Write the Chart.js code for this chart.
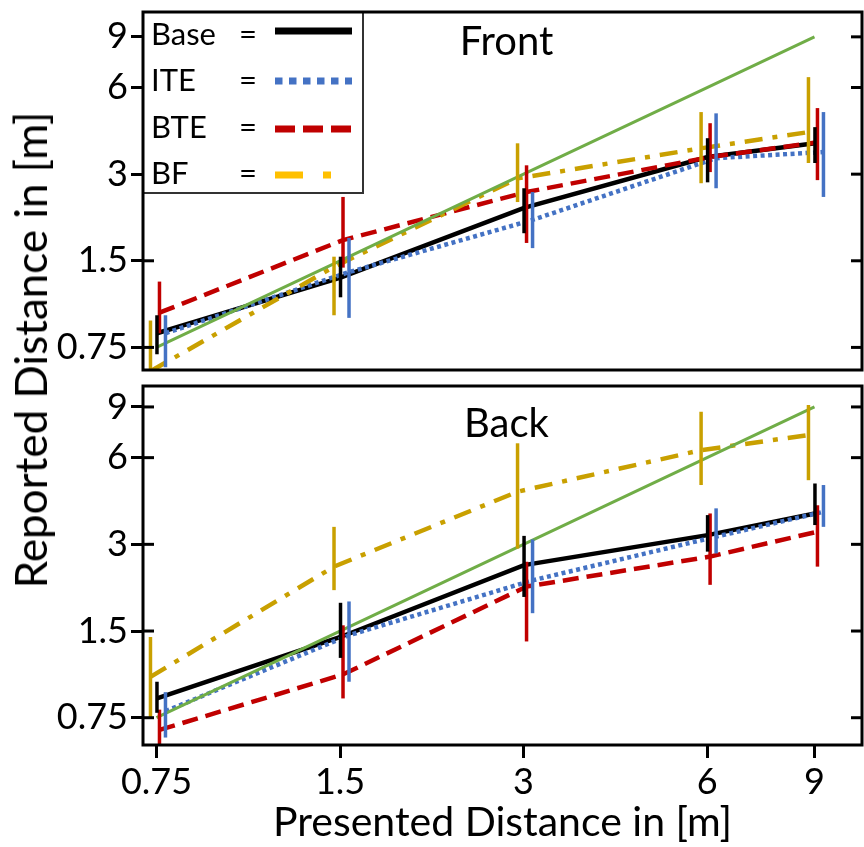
<!DOCTYPE html>
<html><head><meta charset="utf-8">
<script src="https://cdn.jsdelivr.net/npm/chart.js@4.4.1/dist/chart.umd.min.js"></script>
<style>
html,body{margin:0;padding:0;background:#fff;}
#wrap{position:relative;width:864px;height:847px;overflow:hidden;background:#fff;}
#c1{position:absolute;left:0;top:0;}
#c2{position:absolute;left:0;top:378px;}
#ytitle{position:absolute;left:30px;top:350px;transform:translate(-50%,-50%) rotate(-90deg);font-family:Lato;font-size:44px;color:#000;white-space:nowrap;line-height:1;}
</style></head>
<body>
<div id="wrap">
<canvas id="c1" width="864" height="378"></canvas>
<canvas id="c2" width="864" height="469"></canvas>
<div id="ytitle">Reported Distance in [m]</div>
</div>
<script>
// ---- data ----
const xVals = [0.75, 1.5, 3, 6, 9];
const tickVals = [0.75, 1.5, 3, 6, 9];
const tickLabels = ['0.75', '1.5', '3', '6', '9'];
const seriesNames = ['Base', 'ITE', 'BTE', 'BF'];
const panelTitles = ['Front', 'Back'];
const xTitle = 'Presented Distance in [m]';

const frontBase   = [0.84, 1.31, 2.29, 3.44, 3.84];
const frontBaseLo = [0.71, 1.12, 1.87, 2.81, 3.28];
const frontBaseHi = [0.97, 1.55, 2.68, 4.00, 4.37];
const frontITE    = [0.84, 1.37, 2.08, 3.41, 3.58];
const frontITELo  = [0.64, 0.95, 1.66, 2.68, 2.50];
const frontITEHi  = [0.97, 1.80, 2.60, 4.88, 4.93];
const frontBTE    = [0.99, 1.77, 2.60, 3.44, 3.87];
const frontBTELo  = [0.84, 1.42, 1.73, 3.05, 2.86];
const frontBTEHi  = [1.27, 2.50, 3.22, 4.51, 5.09];
const frontBF     = [0.62, 1.43, 2.90, 3.69, 4.20];
const frontBFLo   = [0.45, 0.97, 2.40, 2.79, 3.28];
const frontBFHi   = [0.93, 1.55, 3.84, 4.93, 6.52];

const backBase   = [0.875, 1.43, 2.54, 3.23, 3.84];
const backBaseLo = [0.78, 1.21, 1.97, 2.83, 3.50];
const backBaseHi = [1.00, 1.88, 3.21, 3.79, 4.88];
const backITE    = [0.79, 1.45, 2.25, 3.19, 3.89];
const backITELo  = [0.64, 1.00, 1.73, 2.79, 3.45];
const backITEHi  = [0.92, 1.90, 3.12, 4.00, 4.82];
const backBTE    = [0.68, 1.06, 2.14, 2.72, 3.32];
const backBTELo  = [0.55, 0.875, 1.38, 2.17, 2.51];
const backBTEHi  = [0.80, 1.57, 2.61, 3.84, 4.10];
const backBF     = [1.04, 2.51, 4.57, 6.37, 7.19];
const backBFLo   = [0.75, 2.08, 2.90, 4.82, 5.01];
const backBFHi   = [1.43, 3.45, 6.73, 8.66, 9.14];

const identity = [0.75, 1.5, 3, 6, 9];

// ---- styles ----
const COL = {Base:'#000000', ITE:'#4472C4', BTE:'#C00000', BF:'#C9A000', BFlegend:'#FFC000', ref:'#70AD47'};
const FONT = 'Lato';

function pts(ys){ return xVals.map((x,i)=>({x:x, y:ys[i]})); }

function buildDatasets(base, baseLo, baseHi, ite, iteLo, iteHi, bte, bteLo, bteHi, bf, bfLo, bfHi){
  return [
    {label:'ref', data:pts(identity), borderColor:COL.ref, borderWidth:3, dx:0},
    {label:'BF', data:pts(bf), borderColor:COL.BF, borderWidth:4.5, borderDash:[18,10,5,10], errLo:bfLo, errHi:bfHi, dx:-6},
    {label:'BTE', data:pts(bte), borderColor:COL.BTE, borderWidth:4.5, borderDash:[16,8], errLo:bteLo, errHi:bteHi, dx:3},
    {label:'ITE', data:pts(ite), borderColor:COL.ITE, borderWidth:4.5, borderDash:[4,3.5], errLo:iteLo, errHi:iteHi, dx:9},
    {label:'Base', data:pts(base), borderColor:COL.Base, borderWidth:4.5, errLo:baseLo, errHi:baseHi, dx:0.5}
  ].map(d=>Object.assign({pointRadius:0, tension:0, fill:false, borderCapStyle:'butt'}, d));
}

const dodgeAndBars = {
  id:'dodgeAndBars',
  afterDatasetsUpdate(chart){
    chart.data.datasets.forEach((ds,i)=>{
      if(!ds.dx) return;
      chart.getDatasetMeta(i).data.forEach(p=>{ p.x += ds.dx; });
    });
  },
  afterDatasetsDraw(chart){
    const ctx = chart.ctx, ys = chart.scales.y, a = chart.chartArea;
    ctx.save();
    ctx.beginPath(); ctx.rect(a.left, a.top, a.right-a.left, a.bottom-a.top); ctx.clip();
    ctx.setLineDash([]); ctx.lineWidth = 3.5; ctx.lineCap = 'butt';
    chart.data.datasets.forEach((ds,i)=>{
      if(!ds.errLo) return;
      ctx.strokeStyle = ds.borderColor;
      chart.getDatasetMeta(i).data.forEach((p,j)=>{
        ctx.beginPath();
        ctx.moveTo(p.x, ys.getPixelForValue(ds.errLo[j]));
        ctx.lineTo(p.x, ys.getPixelForValue(ds.errHi[j]));
        ctx.stroke();
      });
    });
    ctx.restore();
  }
};

const frame = {
  id:'frame',
  afterDraw(chart, args, opts){
    const ctx = chart.ctx, a = chart.chartArea, ys = chart.scales.y;
    ctx.save();
    ctx.setLineDash([]);
    // inner tick marks left & right
    ctx.strokeStyle = '#000'; ctx.lineWidth = 3;
    ys.ticks.forEach(t=>{
      const y = ys.getPixelForValue(t.value);
      ctx.beginPath(); ctx.moveTo(a.left, y); ctx.lineTo(a.left+11, y); ctx.stroke();
      ctx.beginPath(); ctx.moveTo(a.right, y); ctx.lineTo(a.right-11, y); ctx.stroke();
    });
    // panel title
    ctx.fillStyle = '#000';
    ctx.font = '40px ' + FONT;
    ctx.textAlign = 'center'; ctx.textBaseline = 'alphabetic';
    ctx.fillText(opts.title, (a.left+a.right)/2 + 4, a.top + opts.titleDy);
    // legend
    if(opts.legend){
      const lx = a.left, ly = a.top, lw = 220, lh = 181;
      ctx.fillStyle = '#fff'; ctx.fillRect(lx, ly, lw, lh);
      ctx.strokeStyle = '#333'; ctx.lineWidth = 2; ctx.strokeRect(lx, ly, lw, lh);
      const rowsText = [23, 69, 116, 162];
      const rowsLine = [19, 69, 117, 163];
      const styles = [
        {c:COL.Base, d:[]},
        {c:COL.ITE, d:[7.5,6.5]},
        {c:COL.BTE, d:[20,8]},
        {c:COL.BFlegend, d:[28,20,8,30]}
      ];
      ctx.font = '31px ' + FONT; ctx.textAlign = 'left'; ctx.textBaseline = 'middle';
      seriesNames.forEach((n,i)=>{
        ctx.fillStyle = '#000';
        ctx.fillText(n, lx+8, ly+rowsText[i]);
        ctx.fillText('=', lx+96, ly+rowsText[i]);
        ctx.strokeStyle = styles[i].c; ctx.lineWidth = 7; ctx.lineCap = 'butt';
        ctx.setLineDash(styles[i].d);
        ctx.beginPath(); ctx.moveTo(lx+132, ly+rowsLine[i]); ctx.lineTo(lx+209, ly+rowsLine[i]); ctx.stroke();
      });
      ctx.setLineDash([]);
    }
    // border
    ctx.strokeStyle = '#000'; ctx.lineWidth = 3;
    ctx.strokeRect(a.left, a.top, a.right-a.left, a.bottom-a.top);
    ctx.restore();
  }
};

function yScale(min, max){
  return {
    type:'logarithmic', min:min, max:max, bounds:'data',
    afterBuildTicks: s => { s.ticks = tickVals.map(v=>({value:v})); },
    afterFit: s => { s.width = 143; s.paddingTop = 0; s.paddingBottom = 0; },
    ticks:{ callback:(v)=> tickLabels[tickVals.indexOf(v)], font:{family:FONT, size:36}, color:'#000', padding:3, autoSkip:false, maxRotation:0 },
    grid:{ drawOnChartArea:false, drawTicks:true, tickLength:12, tickWidth:3, tickColor:'#000' },
    border:{ display:false }
  };
}
function xScale(show){
  const s = {
    type:'logarithmic', min:0.7128, max:10.77, bounds:'data', display:show,
    afterBuildTicks: s => { s.ticks = tickVals.map(v=>({value:v})); },
    ticks:{ callback:(v)=> tickLabels[tickVals.indexOf(v)], font:{family:FONT, size:36}, color:'#000', padding:3, autoSkip:false, maxRotation:0 },
    grid:{ drawOnChartArea:false, drawTicks:true, tickLength:13, tickWidth:3, tickColor:'#000' },
    border:{ display:false },
    title:{ display:show, text:xTitle, font:{family:FONT, size:41}, color:'#000', padding:0 }
  };
  if(show) s.afterFit = sc => { sc.height = 102; sc.paddingLeft = 0; sc.paddingRight = 0; };
  return s;
}

function makeChart(id, datasets, yMin, yMax, showX, pad, opts){
  return new Chart(document.getElementById(id), {
    type:'line',
    data:{ datasets: datasets },
    options:{
      responsive:false, animation:false, events:[],
      layout:{ padding: pad },
      plugins:{ legend:{display:false}, tooltip:{enabled:false}, title:{display:false}, frame: opts },
      scales:{ x: xScale(showX), y: yScale(yMin, yMax) }
    },
    plugins:[dodgeAndBars, frame]
  });
}

makeChart('c1',
  buildDatasets(frontBase, frontBaseLo, frontBaseHi, frontITE, frontITELo, frontITEHi, frontBTE, frontBTELo, frontBTEHi, frontBF, frontBFLo, frontBFHi),
  0.626, 10.98, false, {top:12, right:2, bottom:8, left:0}, {title:panelTitles[0], titleDy:43, legend:true});
makeChart('c2',
  buildDatasets(backBase, backBaseLo, backBaseHi, backITE, backITELo, backITEHi, backBTE, backBTELo, backBTEHi, backBF, backBFLo, backBFHi),
  0.603, 10.64, true, {top:8, right:2, bottom:0, left:0}, {title:panelTitles[1], titleDy:51, legend:false});
</script>
</body></html>
